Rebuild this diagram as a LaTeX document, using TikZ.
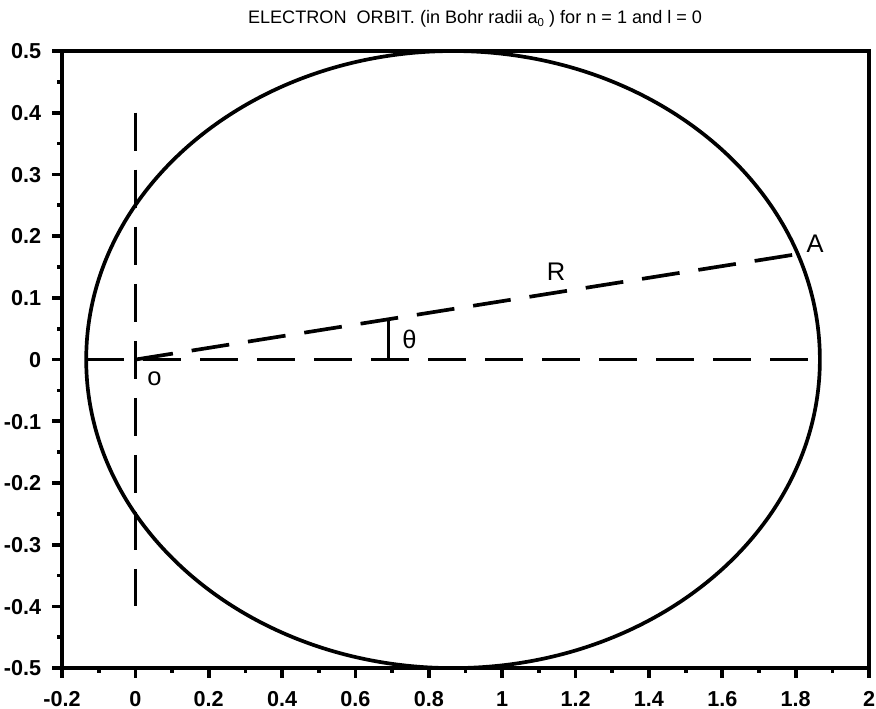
\documentclass[tikz,border=0pt]{standalone}
\usepackage{fontspec}
\setmainfont{Liberation Sans}
\usetikzlibrary{positioning}

\begin{document}
\begin{tikzpicture}[x=7.336cm,y=12.34cm,line width=2.1pt,line cap=butt,
  guide/.style={line width=2.1pt,dash pattern=on 0.76cm off 0.38cm},
  ticklabel/.style={font=\fontsize{12.3}{14}\selectfont\bfseries,inner sep=0pt},
  ptlabel/.style={font=\fontsize{14.5}{17}\selectfont,inner sep=0pt}]
\useasboundingbox (-0.369,-0.5648) rectangle (2.019,0.5827);
% frame and ticks
\draw (-0.2,-0.5) rectangle (2,0.5);
\foreach \x/\lab in {-0.2/-0.2,0/0,0.2/0.2,0.4/0.4,0.6/0.6,0.8/0.8,1/1,1.2/1.2,1.4/1.4,1.6/1.6,1.8/1.8,2/2} {
  \draw (\x,-0.5) -- ++(0,-0.2cm);
  \node[ticklabel,anchor=base] at ([yshift=-0.76cm]\x,-0.5) {\lab};
}
\foreach \x in {-0.1,0.1,...,1.95} \draw (\x,-0.5) -- ++(0,-0.1cm);
\foreach \y/\lab in {0.5/0.5,0.4/0.4,0.3/0.3,0.2/0.2,0.1/0.1,0/0,-0.1/-0.1,-0.2/-0.2,-0.3/-0.3,-0.4/-0.4,-0.5/-0.5} {
  \draw (-0.2,\y) -- ++(-0.2cm,0);
  \node[ticklabel,anchor=base east] at ([xshift=-0.38cm,yshift=-0.155cm]-0.2,\y) {\lab};
}
\foreach \y in {-0.45,-0.35,...,0.46} \draw (-0.2,\y) -- ++(-0.1cm,0);
\node[font=\fontsize{10.3}{12}\selectfont] (title) at (0.926,0.552) {ELECTRON\ \ ORBIT. (in Bohr radii a\raisebox{-0.35ex}{\fontsize{6.5}{7}\selectfont 0} ) for n = 1 and l = 0};
% orbit with focus at o
\coordinate (O) at (0,0);
\coordinate (C) at (0.866,0);
\coordinate (L) at (-0.134,0);
\coordinate (Rt) at (1.866,0);
\coordinate (A) at (1.806,0.171);
\coordinate (T0) at (0.69,0);
\coordinate (T1) at (0.69,0.0653);
\draw (C) ellipse [x radius=7.336cm,y radius=6.17cm];
\draw[guide] (L) -- (Rt);
\draw[guide] (0,0.4) -- (0,-0.4);
\draw[guide] (O) -- (A);
\draw (T0) -- (T1);
\node[ptlabel] (rlab) at (1.147,0.1418) {R};
\node[ptlabel] (alab) at (1.853,0.188) {A};
\node[ptlabel] (thlab) at (0.747,0.0332) {θ};
\node[ptlabel] (olab) at (0.052,-0.0308) {o};
\end{tikzpicture}
\end{document}
